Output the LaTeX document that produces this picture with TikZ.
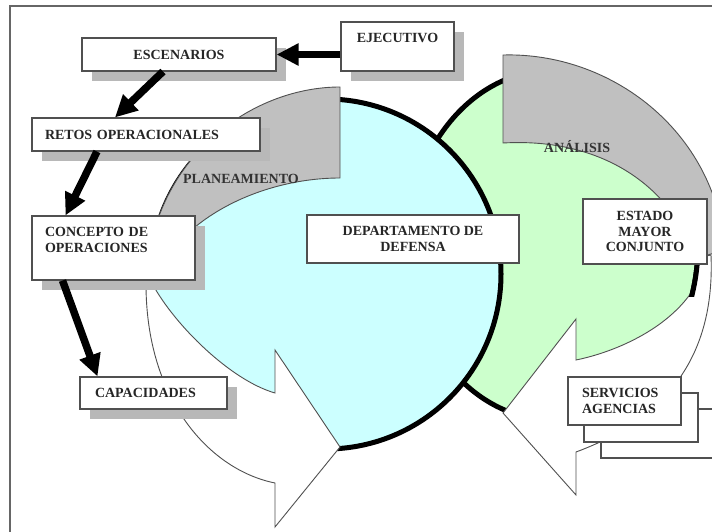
\documentclass[tikz,border=0pt]{standalone}
\usepackage{fontspec}
\setmainfont{Liberation Serif}
\usepackage{xcolor}
\usetikzlibrary{arrows.meta,shadows}
\definecolor{celeste}{RGB}{204,255,255}
\definecolor{verde}{RGB}{204,255,204}
\definecolor{banda}{RGB}{192,192,192}
\definecolor{borde}{RGB}{80,80,80}

\begin{document}
\begin{tikzpicture}[x=1pt,y=-1pt,
  caja/.style={draw=borde,line width=1.1pt,fill=white,inner sep=0pt,
    font=\fontsize{14}{16.5}\selectfont\bfseries,text=black!85},
  sombra/.style={drop shadow={shadow xshift=10pt,shadow yshift=-10pt,fill=black!28,opacity=1}},
  cinta/.style={draw=borde,line width=0.9pt},
  contorno/.style={line width=5pt,black},
  flecha/.style={line width=7.5pt,black,-{Triangle[length=22pt,width=21pt]}},
  rotulo/.style={font=\fontsize{14}{16.5}\selectfont\bfseries,text=black!80}]
\clip (0,0) rectangle (712,532);
\fill[white] (0,0) rectangle (712,532);
\draw[line width=2pt,black!60] (10,540) -- (10,6) -- (720,6);
% discos
\draw[contorno,fill=verde] (553,245) ellipse [x radius=145,y radius=175];
\draw[cinta,fill=banda] (503,55) .. controls (610,52) and (715,130) .. (725,250) -- (697,258) .. controls (665,175) and (590,138) .. (503,143) -- cycle;
\draw[cinta,fill=white] (697,258) -- (711,255) .. controls (714,330) and (690,410) .. (576,452) -- (576,495) -- (503,413) -- (576,319) -- (576,360) .. controls (615,352) and (665,330) .. (691,293) -- cycle;
\begin{scope}
\clip (684,256) rectangle (704,296);
\draw[contorno] (553,245) ellipse [x radius=145,y radius=175];
\end{scope}
\draw[contorno,fill=celeste] (326,274) circle [radius=175];
\draw[cinta,fill=banda] (340,87) .. controls (250,87) and (150,160) .. (146,284) -- (153,285) .. controls (175,220) and (260,178) .. (340,178) -- cycle;
\draw[cinta,fill=white] (146,284) .. controls (146,400) and (210,470) .. (275,483) -- (275,527) -- (340,447) -- (275,350) -- (275,393) .. controls (230,380) and (175,325) .. (153,285) -- cycle;
\node[rotulo] (plan) at (241,179) {PLANEAMIENTO};
\node[rotulo] (anal) at (577,147) {ANÁLISIS};
% cajas
\node[caja,sombra,minimum width=194,minimum height=33] (esc) at (179,54.5) {ESCENARIOS};
\node[caja,sombra,minimum width=113,minimum height=49,align=center] (ejec) at (397.5,46.5) {EJECUTIVO\\\mbox{}};
\node[caja,sombra,minimum width=228,minimum height=33,inner xsep=13,text width=202,align=left] (retos) at (146,134.5) {RETOS OPERACIONALES};
\node[caja,sombra,minimum width=163,minimum height=64,inner xsep=13,text width=137,align=left] (concepto) at (113.5,248) {CONCEPTO DE\\OPERACIONES\\\mbox{}};
\node[caja,sombra,minimum width=147,minimum height=32,inner xsep=15,text width=117,align=left] (capac) at (153.5,393) {CAPACIDADES};
\node[caja,minimum width=212,minimum height=48,align=center] (depto) at (413,239) {DEPARTAMENTO DE\\DEFENSA};
\node[caja,minimum width=124,minimum height=65,align=center,font=\fontsize{14}{15.5}\selectfont\bfseries] (estado) at (645,231.5) {ESTADO\\MAYOR\\CONJUNTO};
\node[caja,minimum width=114,minimum height=49] (serv3) at (658,433.5) {};
\node[caja,minimum width=114,minimum height=49] (serv2) at (641,417.5) {};
\node[caja,minimum width=113,minimum height=48,inner xsep=14,text width=85,align=left] (serv) at (624.5,401) {SERVICIOS\\AGENCIAS};
% flechas
\draw[flecha] (ejec.west |- esc.east) -- (esc.east);
\draw[flecha] ([xshift=-16pt]esc.south) -- ([xshift=-31pt]retos.north);
\draw[flecha] ([xshift=-49pt]retos.south) -- ([xshift=-48pt]concepto.north);
\draw[flecha] ([xshift=-51pt]concepto.south) -- ([xshift=-56pt]capac.north);
\end{tikzpicture}
\end{document}
